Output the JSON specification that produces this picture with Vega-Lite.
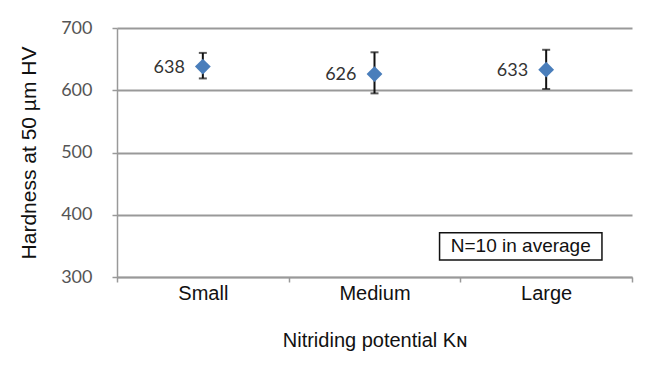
{
  "$schema": "https://vega.github.io/schema/vega-lite/v6.json",
  "width": 515,
  "height": 249,
  "autosize": {"type": "none"},
  "padding": {"left": 117, "top": 28, "right": 13, "bottom": 95},
  "background": "white",
  "config": {"view": {"stroke": null}},
  "datasets": {
    "pts": [
      {"kn": "Small", "hv": 638, "lo": 619, "hi": 660},
      {"kn": "Medium", "hv": 626, "lo": 595, "hi": 661},
      {"kn": "Large", "hv": 633, "lo": 602, "hi": 665}
    ],
    "note": [
      {"label": "N=10 in average", "x1": 1.879, "x2": 2.825, "y1": 327.3, "y2": 371.2, "xm": 2.352, "ym": 349}
    ]
  },
  "layer": [
    {
      "data": {"name": "pts"},
      "encoding": {
        "x": {
          "field": "kn", "type": "nominal", "sort": ["Small", "Medium", "Large"],
          "scale": {"paddingInner": 0, "paddingOuter": 0},
          "axis": {
            "title": "Nitriding potential Kɴ", "labelAngle": 0,
            "labelFont": "Liberation Sans", "labelFontSize": 20, "labelColor": "#111",
            "labelPadding": 1, "tickBand": "extent", "tickSize": 5, "tickColor": "#999", "tickWidth": 1.5,
            "domainColor": "#999", "domainWidth": 1.5,
            "titleFont": "Liberation Sans", "titleFontSize": 20, "titleFontWeight": "normal", "titleColor": "#111", "titlePadding": 27,
            "grid": false
          }
        },
        "y": {
          "type": "quantitative",
          "scale": {"domain": [300, 700], "nice": false, "zero": false},
          "axis": {
            "title": "Hardness at 50 µm HV", "values": [300, 400, 500, 600, 700],
            "labelFont": "Lato", "labelFontSize": 18, "labelColor": "#555", "labelPadding": 20,
            "tickSize": 5, "tickColor": "#999", "tickWidth": 1.5,
            "domainColor": "#999", "domainWidth": 1.5,
            "gridColor": "#999", "gridWidth": 1.8,
            "titleFont": "Liberation Sans", "titleFontSize": 21, "titleFontWeight": "normal", "titleColor": "#111", "titlePadding": 21
          }
        }
      },
      "layer": [
        {"mark": {"type": "rule", "color": "#111", "strokeWidth": 2}, "encoding": {"y": {"field": "lo", "type": "quantitative"}, "y2": {"field": "hi"}}},
        {"mark": {"type": "tick", "color": "#111", "orient": "horizontal", "size": 8, "thickness": 2}, "encoding": {"y": {"field": "lo", "type": "quantitative"}}},
        {"mark": {"type": "tick", "color": "#111", "orient": "horizontal", "size": 8, "thickness": 2}, "encoding": {"y": {"field": "hi", "type": "quantitative"}}},
        {"mark": {"type": "point", "shape": "diamond", "filled": true, "color": "#4a7ebb", "size": 250, "opacity": 1}, "encoding": {"y": {"field": "hv", "type": "quantitative"}}},
        {"mark": {"type": "text", "align": "right", "baseline": "middle", "dx": -18, "dy": 1, "font": "Lato", "fontSize": 18, "color": "#333"}, "encoding": {"y": {"field": "hv", "type": "quantitative"}, "text": {"field": "hv"}}}
      ]
    },
    {
      "data": {"name": "note"},
      "encoding": {
        "x": {"type": "quantitative", "scale": {"domain": [0, 3], "nice": false, "zero": false}, "axis": null}
      },
      "layer": [
        {"mark": {"type": "rect", "fill": "white", "stroke": "#111", "strokeWidth": 1.5}, "encoding": {"x": {"field": "x1", "type": "quantitative"}, "x2": {"field": "x2"}, "y": {"field": "y1", "type": "quantitative"}, "y2": {"field": "y2"}}},
        {"mark": {"type": "text", "font": "Liberation Sans", "fontSize": 19, "color": "#111", "baseline": "middle"}, "encoding": {"x": {"field": "xm", "type": "quantitative"}, "y": {"field": "ym", "type": "quantitative"}, "text": {"field": "label"}}}
      ]
    }
  ],
  "resolve": {"scale": {"x": "independent", "y": "shared"}}
}
